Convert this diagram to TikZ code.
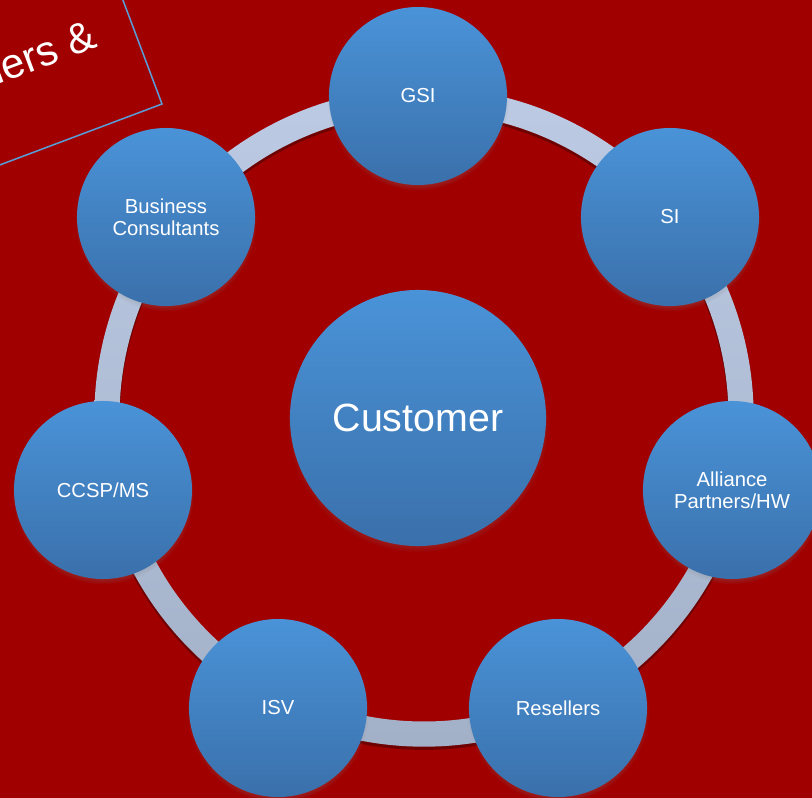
\documentclass[tikz,border=0pt]{standalone}
\usepackage{fontspec}
\setmainfont{Liberation Sans}
\usetikzlibrary{shadows}

\definecolor{slidered}{HTML}{A00000}
\definecolor{circtop}{HTML}{4A93D8}
\definecolor{circbot}{HTML}{3A70AB}
\definecolor{ringtop}{HTML}{BCCBE3}
\definecolor{ringbot}{HTML}{A2B0C8}
\definecolor{framblue}{HTML}{5B9BD5}

\tikzset{
	partner/.style={circle, minimum size=4.45cm, inner sep=0pt, align=center,
		top color=circtop, bottom color=circbot, text=white,
		font=\fontsize{14.4}{15.5}\selectfont,
		circular drop shadow={shadow xshift=0pt, shadow yshift=-2.5pt, shadow scale=1.02, opacity=0.55}},
	hub/.style={partner, minimum size=6.4cm, font=\fontsize{28}{32}\selectfont},
}

\begin{document}
\begin{tikzpicture}[x=0.025cm, y=-0.025cm]
	\useasboundingbox (0,0) rectangle (812,798);
	\clip (0,0) rectangle (812,798);
	\fill[slidered] (0,0) rectangle (812,798);

	% tilted title box, mostly off the page
	\begin{scope}[shift={(162,104)}, rotate=20.6]
		\draw[framblue, line width=1.1pt, fill=slidered] (0,0) rectangle (-420,-190);
		\node[anchor=base east, rotate=20.6, text=white, inner sep=0pt,
			font=\fontsize{30}{34}\selectfont] (title) at (-39,-76) {Partners \&};
	\end{scope}

	% ring
	\coordinate (hubring) at (424,417);
	\fill[black, opacity=0.3, even odd rule] ([yshift=-0.07cm]hubring) circle (8.25cm) circle (7.6cm);
	\shade[top color=ringtop, bottom color=ringbot, even odd rule] (hubring) circle (8.24cm) circle (7.61cm);

	\node at (418, 418) [hub]     (customer)    {Customer};
	\node at (418,  96) [partner] (gsi)         {GSI};
	\node at (670, 217) [partner] (si)          {SI};
	\node at (732, 490) [partner] (alliance)    {Alliance\\Partners/HW};
	\node at (558, 708) [partner] (resellers)   {Resellers};
	\node at (278, 708) [partner] (isv)         {ISV};
	\node at (103, 490) [partner] (ccsp)        {CCSP/MS};
	\node at (166, 217) [partner] (consultants) {Business\\Consultants};
\end{tikzpicture}
\end{document}
